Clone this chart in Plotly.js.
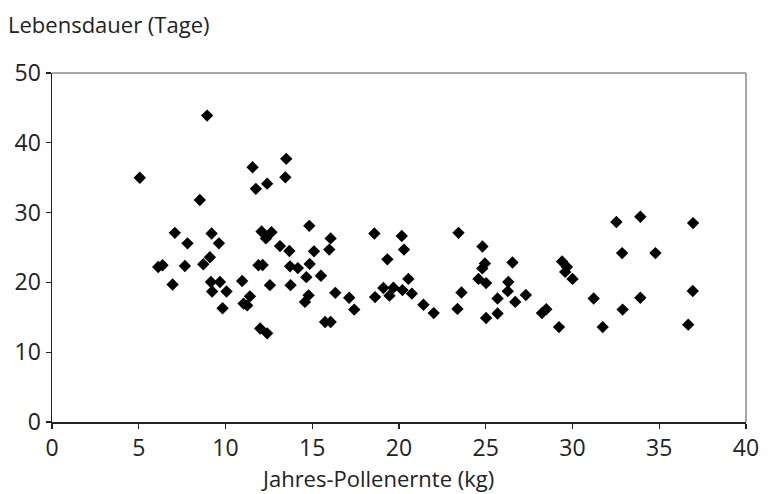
<!DOCTYPE html>
<html>
<head>
<meta charset="utf-8">
<script src="https://cdn.plot.ly/plotly-3.0.1.min.js"></script>
<style>html,body{margin:0;padding:0;background:#fff;}#chart{width:768px;height:494px;}</style>
</head>
<body>
<div id="chart"></div>
<script>
// Jahres-Pollenernte (kg)
const pollenKg = [5.06, 8.94, 11.56, 11.75, 12.4, 8.52, 7.08, 7.81, 9.2, 9.62, 6.12, 6.37, 7.66, 6.95, 8.72, 9.1, 9.16, 9.68, 9.23, 10.06, 9.83, 10.96, 11.04, 11.25, 11.41, 13.5, 13.45, 14.83, 12.08, 12.65, 12.33, 13.14, 13.68, 16.06, 15.98, 15.1, 11.9, 12.14, 13.72, 14.17, 14.85, 14.66, 15.5, 12.56, 13.75, 14.79, 14.58, 16.33, 17.13, 17.42, 15.74, 16.06, 12.0, 12.4,
  18.58, 20.16, 20.29, 19.33, 23.43, 24.81, 24.95, 24.8, 26.54, 20.54, 19.1, 19.68, 20.2, 20.74, 18.62, 19.45, 21.41, 22.0, 23.6, 23.37, 24.58, 25.02, 26.3, 26.27, 25.68, 26.7, 27.31, 25.02, 25.68, 28.24, 28.49, 29.22, 29.4, 29.68, 29.58, 30.0, 31.22, 31.74, 32.53, 32.86, 32.89, 33.91, 33.91, 34.78, 36.67, 36.95, 36.93];
// Lebensdauer (Tage)
const lifespanDays = [35.0, 43.9, 36.5, 33.4, 34.15, 31.8, 27.1, 25.6, 27.0, 25.6, 22.2, 22.45, 22.35, 19.7, 22.6, 23.6, 20.06, 20.06, 18.7, 18.7, 16.3, 20.2, 16.96, 16.7, 18.0, 37.7, 35.05, 28.1, 27.3, 27.2, 26.3, 25.2, 24.5, 26.3, 24.7, 24.45, 22.45, 22.5, 22.3, 22.05, 22.65, 20.75, 20.95, 19.6, 19.6, 18.15, 17.2, 18.5, 17.8, 16.1, 14.33, 14.33, 13.4, 12.7,
  27.0, 26.65, 24.7, 23.3, 27.1, 25.15, 22.7, 22.0, 22.85, 20.5, 19.2, 19.25, 18.9, 18.4, 17.9, 18.1, 16.8, 15.6, 18.55, 16.2, 20.5, 19.9, 20.06, 18.75, 17.7, 17.2, 18.2, 14.9, 15.55, 15.6, 16.15, 13.6, 23.0, 22.2, 21.5, 20.5, 17.7, 13.6, 28.65, 24.2, 16.1, 29.4, 17.8, 24.2, 13.95, 28.5, 18.77];

const xTicks = [0, 5, 10, 15, 20, 25, 30, 35, 40];
const yTicks = [0, 10, 20, 30, 40, 50];
const yTitle = 'Lebensdauer (Tage)';
const xTitle = 'Jahres-Pollenernte (kg)';

const FONT = '"Open Sans", "Noto Sans", sans-serif';

const trace = {
  type: 'scatter', mode: 'markers',
  x: pollenKg, y: lifespanDays,
  marker: {symbol: 'diamond', size: 9.5, color: '#000', line: {width: 0}},
  hoverinfo: 'skip'
};

const layout = {
  width: 768, height: 494,
  margin: {l: 52, r: 22, t: 73, b: 72, autoexpand: false},
  paper_bgcolor: '#fff', plot_bgcolor: '#fff',
  showlegend: false,
  font: {family: FONT, color: '#222', size: 23},
  title: {text: yTitle, x: 8/768, xanchor: 'left', xref: 'container',
          y: 1 - 25/494, yanchor: 'middle', yref: 'container',
          font: {family: FONT, size: 22, color: '#222'}},
  xaxis: {range: [0, 40], tickvals: xTicks, ticktext: xTicks.map(String),
          showgrid: false, zeroline: false, showline: true, linecolor: '#222', linewidth: 1.5,
          ticks: 'outside', ticklen: 5, tickwidth: 1.2, tickcolor: '#222',
          tickfont: {family: FONT, size: 23, color: '#222'}, fixedrange: true},
  yaxis: {range: [0, 50], tickvals: yTicks, ticktext: yTicks.map(String),
          showgrid: false, zeroline: false, showline: true, linecolor: '#222', linewidth: 1.5,
          ticks: 'outside', ticklen: 5, tickwidth: 1.2, tickcolor: '#222',
          tickfont: {family: FONT, size: 23, color: '#222'}, fixedrange: true},
  shapes: [
    {type: 'line', xref: 'paper', yref: 'paper', x0: 0, x1: 1, y0: 1, y1: 1,
     line: {color: '#8a8a8a', width: 1.5}, layer: 'below'},
    {type: 'line', xref: 'paper', yref: 'paper', x0: 1, x1: 1, y0: 0, y1: 1,
     line: {color: '#8a8a8a', width: 1.5}, layer: 'below'}
  ],
  annotations: [
    {text: xTitle, xref: 'paper', yref: 'paper', x: (377.5 - 52) / 694, y: (422 - 478) / 349,
     xanchor: 'center', yanchor: 'middle', showarrow: false,
     font: {family: FONT, size: 22, color: '#222'}}
  ]
};

Plotly.newPlot('chart', [trace], layout, {staticPlot: true, displayModeBar: false});
</script>
</body>
</html>
